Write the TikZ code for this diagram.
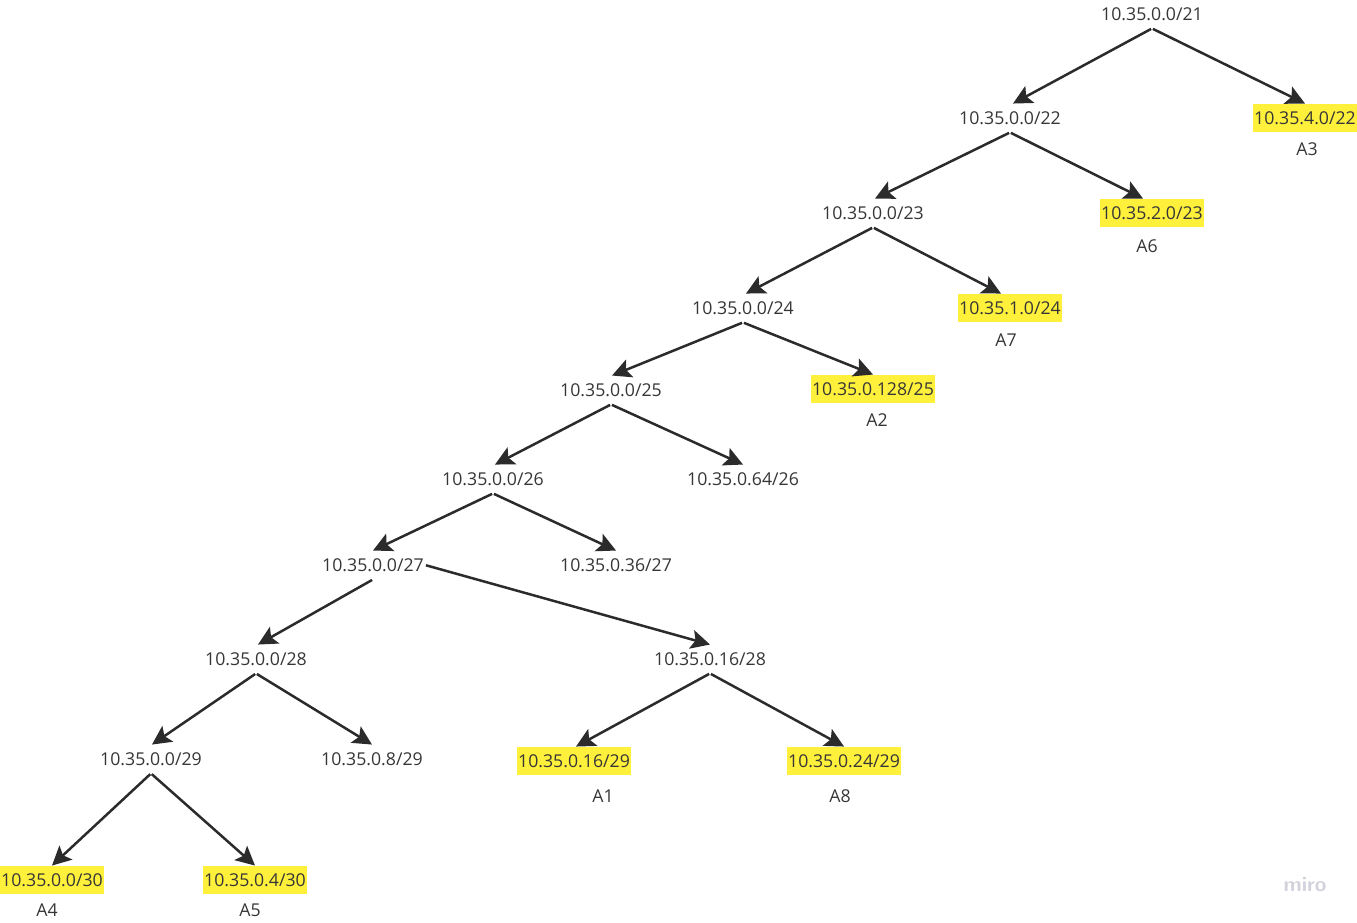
\documentclass[tikz,border=0pt]{standalone}
\usepackage{fontspec}
\setmainfont{Open Sans}
\usetikzlibrary{arrows.meta}
\definecolor{txt}{HTML}{363636}
\definecolor{ln}{HTML}{2B2B2B}
\definecolor{hl}{HTML}{FFF03C}
\definecolor{wm}{HTML}{D2D2DC}
\begin{document}
\begin{tikzpicture}[x=1pt,y=-1pt,
  net/.style={font=\fontsize{17.7}{20}\selectfont, text=txt, text height=13.5pt, text depth=0pt, inner xsep=1pt, inner ysep=7.5pt},
  leaf/.style={net, fill=hl},
  lbl/.style={font=\fontsize{17.7}{20}\selectfont, text=txt, inner sep=1pt},
  edge/.style={draw=ln, line width=2.5pt, -{Stealth[length=19pt,width=19pt,inset=4pt]}, shorten <=1pt}
]
\useasboundingbox (0,0) rectangle (1357,923);
% nodes
\node[net]  (n21) at (1152,14) {10.35.0.0/21};
\node[net]  (n22) at (1010,118) {10.35.0.0/22};
\node[leaf] (a3)  at (1305,118) {10.35.4.0/22};
\node[lbl]  (la3) at (1307,149) {A3};
\node[net]  (n23) at (873,213) {10.35.0.0/23};
\node[leaf] (a6)  at (1152,213) {10.35.2.0/23};
\node[lbl]  (la6) at (1147,246) {A6};
\node[net]  (n24) at (743,308) {10.35.0.0/24};
\node[leaf] (a7)  at (1010,308) {10.35.1.0/24};
\node[lbl]  (la7) at (1006,340) {A7};
\node[net]  (n25) at (611,390) {10.35.0.0/25};
\node[leaf] (a2)  at (873,389) {10.35.0.128/25};
\node[lbl]  (la2) at (877,420) {A2};
\node[net]  (n26) at (493,479) {10.35.0.0/26};
\node[net]  (m26) at (743,479) {10.35.0.64/26};
\node[net]  (n27) at (373,565) {10.35.0.0/27};
\node[net]  (m27) at (616,565) {10.35.0.36/27};
\node[net]  (n28) at (256,659) {10.35.0.0/28};
\node[net]  (m28) at (710,659) {10.35.0.16/28};
\node[net]  (n29) at (151,759) {10.35.0.0/29};
\node[net]  (m29) at (372,759) {10.35.0.8/29};
\node[leaf] (a1)  at (574,761) {10.35.0.16/29};
\node[lbl]  (la1) at (603,796) {A1};
\node[leaf] (a8)  at (844,761) {10.35.0.24/29};
\node[lbl]  (la8) at (840,796) {A8};
\node[leaf] (a4)  at (52,880) {10.35.0.0/30};
\node[lbl]  (la4) at (47,910) {A4};
\node[leaf] (a5)  at (255,880) {10.35.0.4/30};
\node[lbl]  (la5) at (250,910) {A5};
\node[font=\sffamily\bfseries\fontsize{21}{24}\selectfont, text=wm] (wmk) at (1305,885) {miro};
% edges
\draw[edge] (n21.south) -- ([xshift=3pt]n22.north);
\draw[edge] (n21.south) -- (a3.north);
\draw[edge] (n22.south) -- ([xshift=-135pt]n22.south |- n23.north);
\draw[edge] (n22.south) -- ([xshift=-9pt]a6.north);
\draw[edge] (n23.south) -- ([xshift=3pt]n24.north);
\draw[edge] (n23.south) -- ([xshift=-9pt]a7.north);
\draw[edge] (n24.south) -- ([xshift=1pt]n25.north);
\draw[edge] (n24.south) -- (a2.north);
\draw[edge] (n25.south) -- ([xshift=2pt]n26.north);
\draw[edge] (n25.south) -- (m26.north);
\draw[edge] (n26.south) -- (n27.north);
\draw[edge] (n26.south) -- (m27.north);
\draw[edge] (n27.south) -- ([xshift=2pt]n28.north);
\draw[edge] (n27.east) -- (m28.north);
\draw[edge] (n28.south) -- ([xshift=1pt]n29.north);
\draw[edge] (n28.south) -- (m29.north);
\draw[edge] (m28.south) -- ([xshift=2pt]a1.north);
\draw[edge] (m28.south) -- (a8.north);
\draw[edge] (n29.south) -- (a4.north);
\draw[edge] (n29.south) -- (a5.north);
\end{tikzpicture}
\end{document}
